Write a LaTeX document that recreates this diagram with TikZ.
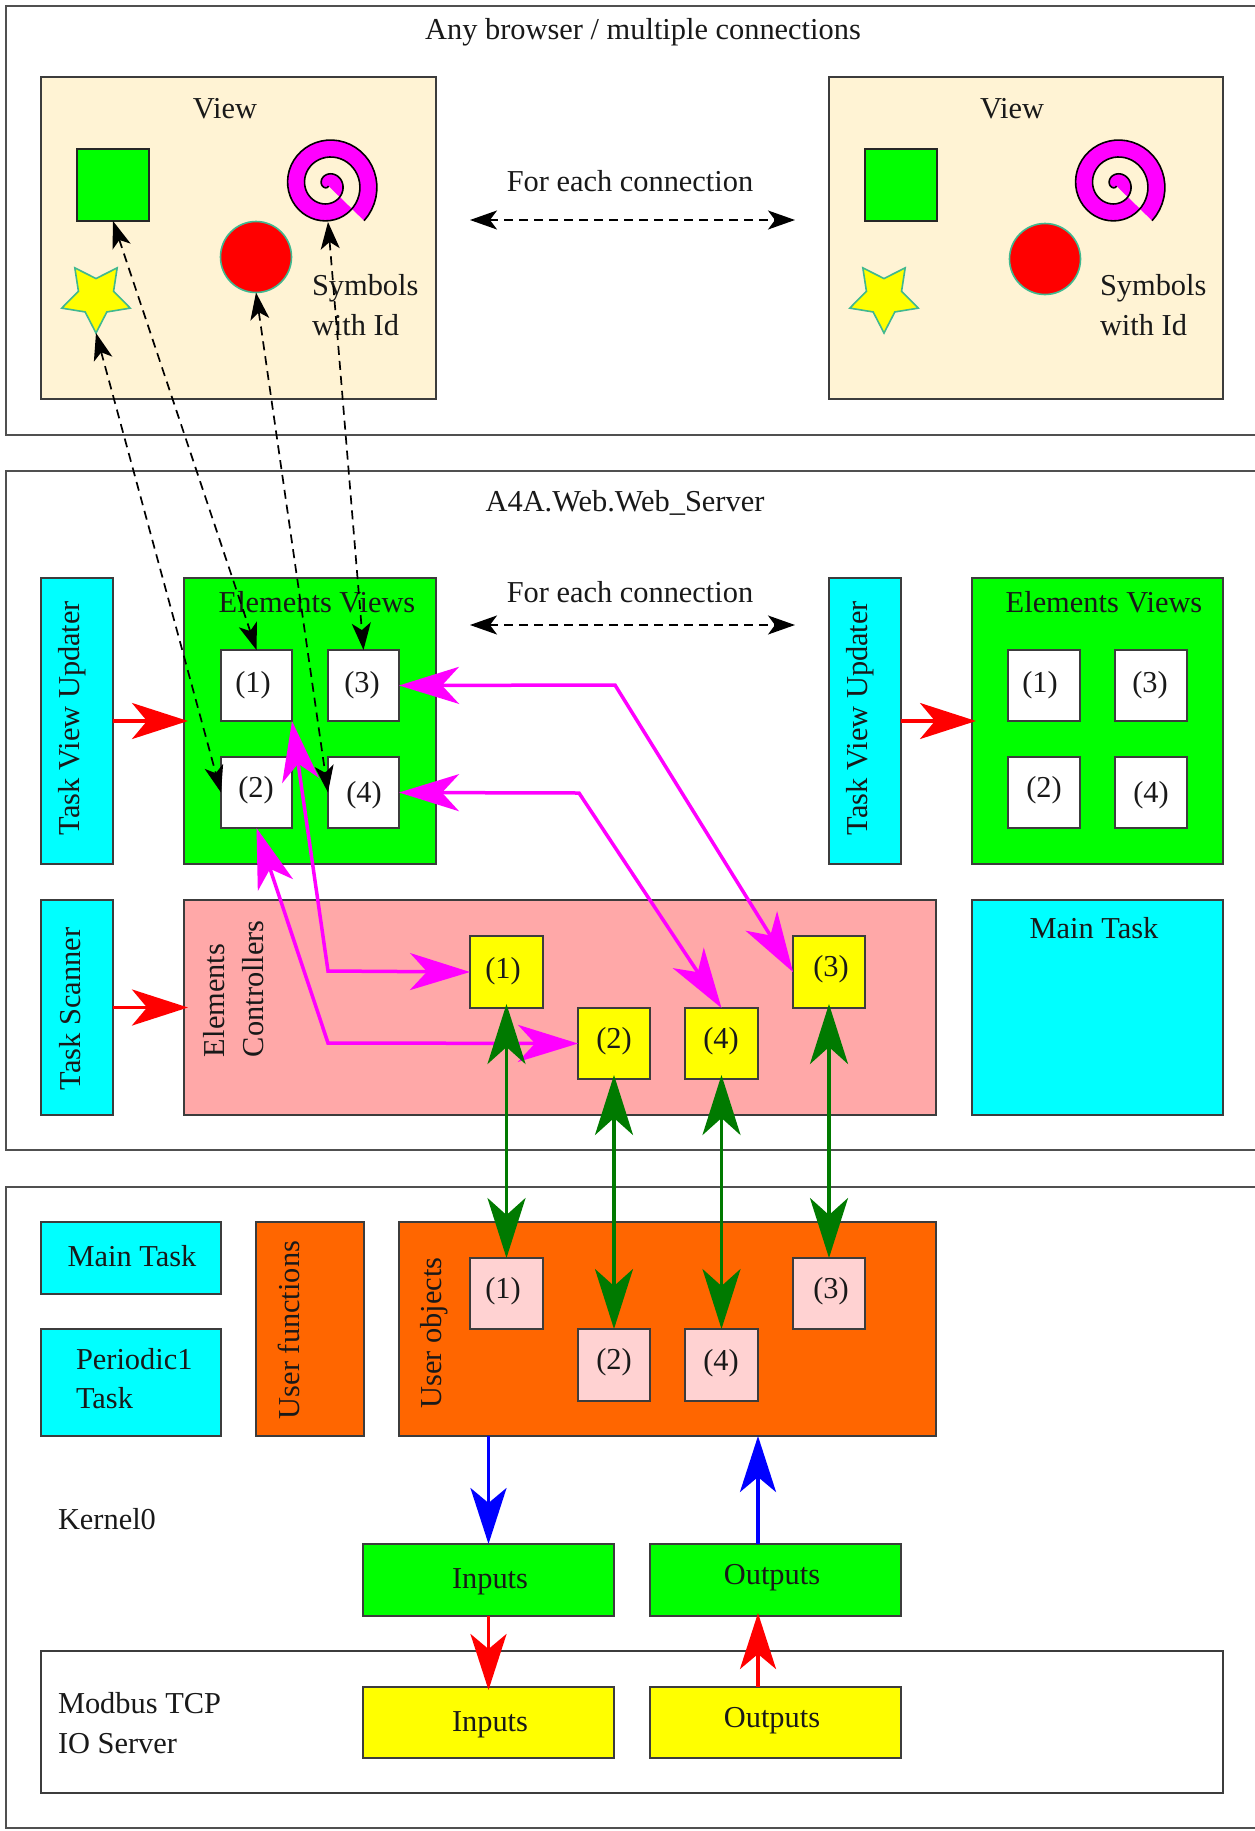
\documentclass[tikz,border=0pt]{standalone}
\usepackage{fontspec}
\setmainfont{Liberation Serif}
\usetikzlibrary{arrows.meta,shapes.geometric}
\definecolor{viewc}{HTML}{FFF3D4}
\definecolor{pinkc}{HTML}{FFA8A8}
\definecolor{lpink}{HTML}{FFD2D2}
\definecolor{orangec}{HTML}{FF6600}
\definecolor{dgreen}{HTML}{007A00}
\definecolor{edgec}{HTML}{3C3C3C}
\definecolor{symc}{HTML}{40B890}
\definecolor{pcyan}{HTML}{00FFFF}
\definecolor{pmag}{HTML}{FF00FF}
\definecolor{pyel}{HTML}{FFFF00}
\definecolor{pgrn}{HTML}{00FF00}
\definecolor{pred}{HTML}{FF0000}
\definecolor{pblu}{HTML}{0000FF}
\tikzset{
  boxb/.style={draw=edgec,line width=2pt,inner sep=0pt,outer sep=0pt,rectangle},
  framebox/.style={boxb,fill=white,draw=edgec!90},
  viewbox/.style={boxb,fill=viewc},
  greenbox/.style={boxb,fill=pgrn},
  cyanbox/.style={boxb,fill=pcyan},
  whitebox/.style={boxb,fill=white},
  yellowbox/.style={boxb,fill=pyel},
  pinkbox/.style={boxb,fill=pinkc},
  lpinkbox/.style={boxb,fill=lpink},
  orangebox/.style={boxb,fill=orangec},
  lab/.style={inner sep=0pt,outer sep=0pt,text=black!90,yshift=-2.5pt,font=\fontsize{30.4}{36}\selectfont},
  rlab/.style={lab,rotate=90,xshift=2pt},
  symsq/.style={boxb,draw=black!85,fill=pgrn},
  symcirc/.style={circle,draw=symc,line width=1.6pt,fill=pred,minimum size=71pt,inner sep=0pt,outer sep=0pt},
  symstar/.style={star,star points=5,star point ratio=1.95,draw=symc,line width=1.6pt,fill=pyel,minimum size=72pt,inner sep=0pt,outer sep=0pt,shape border rotate=180},
  spir/.style={draw=black,line width=1.6pt,fill=pmag,even odd rule},
  dasharr/.style={draw=black,line width=1.7pt,dash pattern=on 9pt off 6pt,>={Stealth[length=27pt,width=19pt,inset=7pt]},<->},
  magarr/.style={draw=pmag,line width=3.5pt,>={Stealth[length=60pt,width=37pt,inset=17pt]},<->},
  grnarr/.style={draw=dgreen,line width=3.5pt,shorten <=-4pt,>={Stealth[length=60pt,width=38pt,inset=17pt]},<->},
  redarr/.style={draw=pred,line width=3.5pt,>={Stealth[length=56pt,width=36pt,inset=15pt]},->},
  bluearr/.style={draw=pblu,line width=3.5pt,>={Stealth[length=56pt,width=36pt,inset=15pt]},->},
}
\newcommand\bx[7]{\node[#6,minimum width={#4-#2},minimum height={#5-#3}] (#1) at ({(#2+#4)/2},{(#3+#5)/2}) {#7};}
\newcommand\tx[5]{\node[lab,#4] (#1) at (#2,#3) {#5};}
\newcommand\spiralat[1]{%
  \path[spir,shift={(#1,0)}] plot[domain=-0.3:2.625,samples=140] ({328-(6.33+17*\x)*cos(360*\x)},{184.7-(6.33+17*\x)*sin(360*\x)});}
\begin{document}
\begin{tikzpicture}[x=1pt,y=-1pt]
\useasboundingbox (0,0) rectangle (1255,1831);
\clip (0,0) rectangle (1255,1831);
% frames
\bx{fa}{6}{6}{1300}{435}{framebox}{}
\bx{fb}{6}{471}{1300}{1150}{framebox}{}
\bx{fc}{6}{1187}{1300}{1828}{framebox}{}
\tx{tany}{643}{30}{}{Any browser / multiple connections}
\tx{tweb}{625}{500}{}{A4A.Web.Web\_Server}
% views
\bx{va}{41}{77}{436}{399}{viewbox}{}
\bx{vb}{829}{77}{1223}{399}{viewbox}{}
\tx{tva}{225}{106}{}{View}
\tx{tvb}{1012}{106}{}{View}
\bx{sqa}{77}{149}{149}{221}{symsq}{}
\bx{sqb}{865}{149}{937}{221}{symsq}{}
\node[symcirc] (ca) at (256,257) {};
\node[symcirc] (cb) at (1045,259) {};
\node[symstar] (sa) at (96,297) {};
\node[symstar] (sb) at (884,297) {};
\spiralat{0}
\spiralat{788}
\coordinate (spa) at (328,222);
\tx{syma}{312}{286}{anchor=west}{Symbols}
\tx{symb}{312}{323}{anchor=west}{with Id}
\tx{symc1}{1100}{286}{anchor=west}{Symbols}
\tx{symc2}{1100}{323}{anchor=west}{with Id}
\tx{fea}{630}{179}{}{For each connection}
\tx{feb}{630}{590}{}{For each connection}
\coordinate (dal) at (470,220); \coordinate (dar) at (795,220);
\coordinate (dbl) at (470,625); \coordinate (dbr) at (795,625);
% web server left
\bx{tvua}{41}{578}{113}{864}{cyanbox}{}
\bx{tvub}{829}{578}{901}{864}{cyanbox}{}
\tx{ttvua}{72}{715}{rlab}{Task View Updater}
\tx{ttvub}{860}{715}{rlab}{Task View Updater}
\bx{eva}{184}{578}{436}{864}{greenbox}{}
\bx{evb}{972}{578}{1223}{864}{greenbox}{}
\tx{teva}{317}{600}{}{Elements Views}
\tx{tevb}{1104}{600}{}{Elements Views}
\bx{ea1}{221}{650}{292}{721}{whitebox}{}
\bx{ea3}{328}{650}{399}{721}{whitebox}{}
\bx{ea2}{221}{757}{292}{828}{whitebox}{}
\bx{ea4}{328}{757}{399}{828}{whitebox}{}
\bx{eb1}{1008}{650}{1080}{721}{whitebox}{}
\bx{eb3}{1115}{650}{1187}{721}{whitebox}{}
\bx{eb2}{1008}{757}{1080}{828}{whitebox}{}
\bx{eb4}{1115}{757}{1187}{828}{whitebox}{}
\tx{ta1}{253}{683}{}{(1)}
\tx{ta3}{362}{683}{}{(3)}
\tx{ta2}{256}{788}{}{(2)}
\tx{ta4}{364}{793}{}{(4)}
\tx{tb1}{1040}{683}{}{(1)}
\tx{tb3}{1150}{683}{}{(3)}
\tx{tb2}{1044}{788}{}{(2)}
\tx{tb4}{1151}{793}{}{(4)}
\bx{tsc}{41}{900}{113}{1115}{cyanbox}{}
\tx{ttsc}{70}{1006}{rlab}{Task Scanner}
\bx{ctl}{184}{900}{936}{1115}{pinkbox}{}
\tx{tctla}{214}{1054}{rlab,anchor=west}{Elements}
\tx{tctlb}{253}{1054}{rlab,anchor=west}{Controllers}
\bx{mta}{972}{900}{1223}{1115}{cyanbox}{}
\tx{tmta}{1094}{926}{}{Main Task}
\bx{y1}{470}{936}{543}{1008}{yellowbox}{}
\bx{y2}{578}{1008}{650}{1079}{yellowbox}{}
\bx{y4}{685}{1008}{758}{1079}{yellowbox}{}
\bx{y3}{793}{936}{865}{1008}{yellowbox}{}
\tx{ty1}{503}{969}{}{(1)}
\tx{ty2}{614}{1039}{}{(2)}
\tx{ty4}{721}{1039}{}{(4)}
\tx{ty3}{831}{967}{}{(3)}
% kernel
\bx{mt}{41}{1222}{221}{1294}{cyanbox}{}
\tx{tmt}{132}{1254}{}{Main Task}
\bx{per}{41}{1329}{221}{1436}{cyanbox}{}
\tx{tpera}{76}{1357}{anchor=west}{Periodic1}
\tx{tperb}{76}{1396}{anchor=west}{Task}
\bx{uf}{256}{1222}{364}{1436}{orangebox}{}
\tx{tuf}{289}{1327}{rlab}{User functions}
\bx{uo}{399}{1222}{936}{1436}{orangebox}{}
\tx{tuo}{434}{1330}{rlab}{User objects}
\bx{p1}{470}{1258}{543}{1329}{lpinkbox}{}
\bx{p3}{793}{1258}{865}{1329}{lpinkbox}{}
\bx{p2}{578}{1329}{650}{1401}{lpinkbox}{}
\bx{p4}{685}{1329}{758}{1401}{lpinkbox}{}
\tx{tp1}{503}{1289}{}{(1)}
\tx{tp3}{831}{1289}{}{(3)}
\tx{tp2}{614}{1360}{}{(2)}
\tx{tp4}{721}{1361}{}{(4)}
\tx{tker}{58}{1517}{anchor=west}{Kernel0}
\bx{ing}{363}{1544}{614}{1616}{greenbox}{}
\bx{outg}{650}{1544}{901}{1616}{greenbox}{}
\tx{tingx}{490}{1579}{}{Inputs}
\tx{toutg}{772}{1575}{}{Outputs}
\bx{mod}{41}{1651}{1223}{1793}{whitebox}{}
\tx{tmoda}{58}{1701}{anchor=west}{Modbus TCP}
\tx{tmodb}{58}{1741}{anchor=west}{IO Server}
\bx{iny}{363}{1687}{614}{1758}{yellowbox}{}
\bx{outy}{650}{1687}{901}{1758}{yellowbox}{}
\tx{tiny}{490}{1722}{}{Inputs}
\tx{touty}{772}{1718}{}{Outputs}
% connectors: red
\draw[redarr,shorten >=-4pt] (tvua) -- (eva.west);
\draw[redarr,shorten >=-4pt] (tvub) -- (evb.west);
\draw[redarr,shorten >=-4pt] (tsc) -- (ctl.west);
% magenta
\coordinate (m3) at (615,685);
\coordinate (m4) at (579,793);
\coordinate (m1) at (328,971);
\coordinate (m2) at (328,1043);
\draw[magarr] (ea3.east) -- (m3) -- (y3.west);
\draw[magarr] (ea4.east) -- (m4) -- (y4.north);
\draw[magarr] (ea1.south east) -- (m1) -- (y1.west);
\draw[magarr] (ea2.south) -- (m2) -- (y2.west);
% green
\draw[grnarr] (y1.south) -- (p1.north);
\draw[grnarr] (y2.south) -- (p2.north);
\draw[grnarr] (y4.south) -- (p4.north);
\draw[grnarr] (y3.south) -- (p3.north);
% blue and red in the kernel
\coordinate (oa) at (758,1544);
\coordinate (ob) at (758,1436);
\coordinate (oc) at (758,1687);
\coordinate (od) at (758,1613);
\coordinate (ia) at (ing.north |- uo.south);
\draw[bluearr] (ia) -- (ing.north);
\draw[bluearr] (oa) -- (ob);
\draw[redarr,shorten >=-3pt] (ing.south) -- (iny.north);
\draw[redarr] (oc) -- (od);
% dashed
\draw[dasharr] (dal) -- (dar);
\draw[dasharr] (dbl) -- (dbr);
\draw[dasharr] (sa.south) -- (ea2.west);
\draw[dasharr] (sqa.south) -- (ea1.north);
\draw[dasharr] (ca.south) -- (ea4.west);
\draw[dasharr] (spa) -- (ea3.north);
\end{tikzpicture}
\end{document}
